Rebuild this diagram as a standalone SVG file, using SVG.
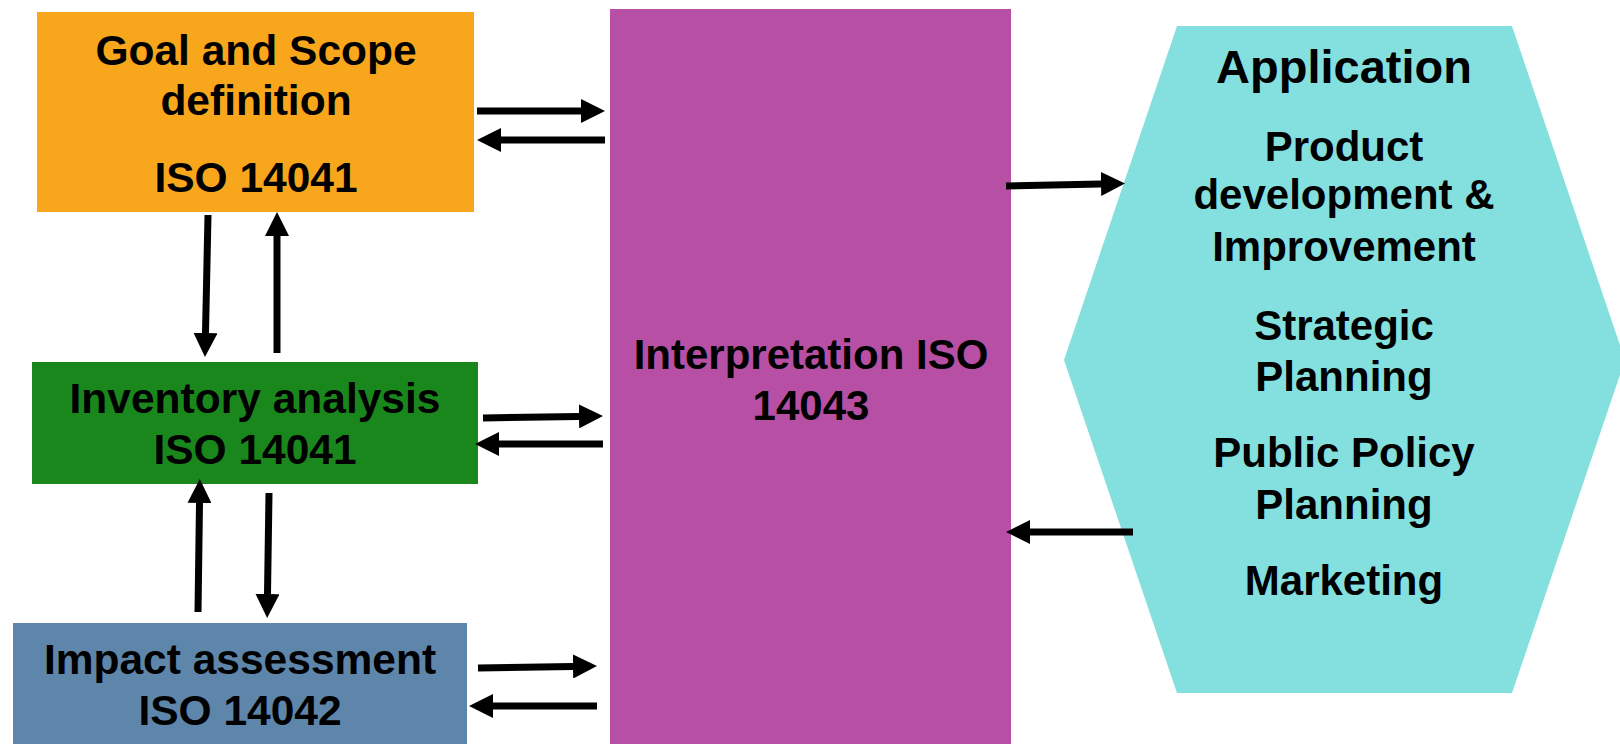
<svg xmlns="http://www.w3.org/2000/svg" width="1620" height="744" viewBox="0 0 1620 744">
<style>
.t{font-family:"Liberation Sans",Arial,sans-serif;font-weight:bold;fill:#000;text-anchor:middle}
.l{font-size:42.5px}
.r{font-size:42px}
.c{stroke:#000;stroke-width:7;fill:none;marker-end:url(#ah)}
</style>
<defs>
<marker id="ah" markerUnits="userSpaceOnUse" markerWidth="24" markerHeight="24" viewBox="0 0 24 24" refX="0" refY="12" orient="auto">
<path d="M0,0 L24,12 L0,24 z" fill="#000"/>
</marker>
</defs>
<rect width="1620" height="744" fill="#fff"/>
<g id="goal">
<rect x="37" y="12" width="437" height="200" fill="#F8A61C"/>
<text class="t l" x="256" y="65">Goal and Scope</text>
<text class="t l" x="256" y="115">definition</text>
<text class="t l" x="256" y="192">ISO 14041</text>
</g>
<g id="inventory">
<rect x="32" y="362" width="446" height="122" fill="#1A871C"/>
<text class="t l" x="255" y="413">Inventory analysis</text>
<text class="t l" x="255" y="464">ISO 14041</text>
</g>
<g id="impact">
<rect x="13" y="623" width="454" height="121" fill="#5E85AA"/>
<text class="t l" x="240" y="674">Impact assessment</text>
<text class="t l" x="240" y="725">ISO 14042</text>
</g>
<g id="interpretation">
<rect x="610" y="9" width="401" height="735" fill="#B750A5"/>
<text class="t r" x="811" y="369">Interpretation ISO</text>
<text class="t r" x="811" y="420">14043</text>
</g>
<g id="application">
<polygon points="1177,26 1512,26 1625,360 1512,693 1177,693 1064,360" fill="#84DFDF"/>
<text class="t" style="font-size:47px" x="1344" y="83">Application</text>
<text class="t r" x="1344" y="161">Product</text>
<text class="t r" x="1344" y="209">development &amp;</text>
<text class="t r" x="1344" y="261">Improvement</text>
<text class="t r" x="1344" y="340">Strategic</text>
<text class="t r" x="1344" y="391">Planning</text>
<text class="t r" x="1344" y="467">Public Policy</text>
<text class="t r" x="1344" y="519">Planning</text>
<text class="t r" x="1344" y="595">Marketing</text>
</g>
<g id="connectors">
<line class="c" x1="477" y1="111" x2="581" y2="111"/>
<line class="c" x1="605" y1="140" x2="501" y2="140"/>
<line class="c" x1="208" y1="215" x2="205.5" y2="333"/>
<line class="c" x1="277" y1="353" x2="277" y2="236"/>
<line class="c" x1="483" y1="418" x2="579" y2="416.4"/>
<line class="c" x1="603" y1="444" x2="499" y2="444"/>
<line class="c" x1="198" y1="612" x2="199.5" y2="503"/>
<line class="c" x1="269" y1="493" x2="267.5" y2="594"/>
<line class="c" x1="478" y1="668" x2="573" y2="666.5"/>
<line class="c" x1="597" y1="706" x2="493" y2="706"/>
<line class="c" x1="1006" y1="186" x2="1101" y2="184"/>
<line class="c" x1="1133" y1="532" x2="1030" y2="532"/>
</g>
</svg>
